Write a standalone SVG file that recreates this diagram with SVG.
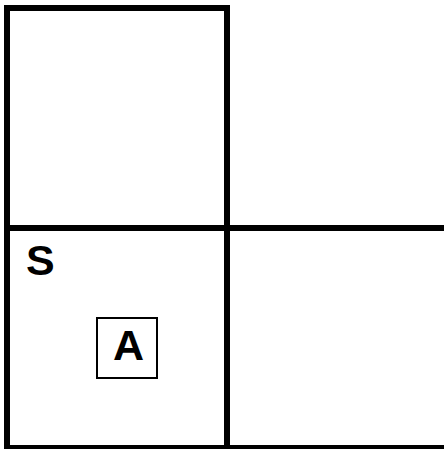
<svg xmlns="http://www.w3.org/2000/svg" width="444" height="449" viewBox="0 0 444 449">
<style>
.cell{fill:#fff;stroke:#000;stroke-width:6}
.box{fill:#fff;stroke:#000;stroke-width:2}
.lbl{font-family:"Liberation Sans",Arial,sans-serif;font-weight:bold;font-size:43px;fill:#000}
</style>
<rect width="444" height="449" fill="#fff"/>
<g id="cell-top"><rect class="cell" x="7" y="8" width="220" height="220"/></g>
<g id="cell-right"><rect class="cell" x="227" y="228" width="220" height="220"/></g>
<g id="cell-S"><rect class="cell" x="7" y="228" width="220" height="220"/>
<text class="lbl" x="26" y="275">S</text></g>
<g id="node-A"><rect class="box" x="97" y="318" width="60" height="60"/>
<text class="lbl" x="128.5" y="360" text-anchor="middle">A</text></g>
<g id="connectors"></g>
</svg>
